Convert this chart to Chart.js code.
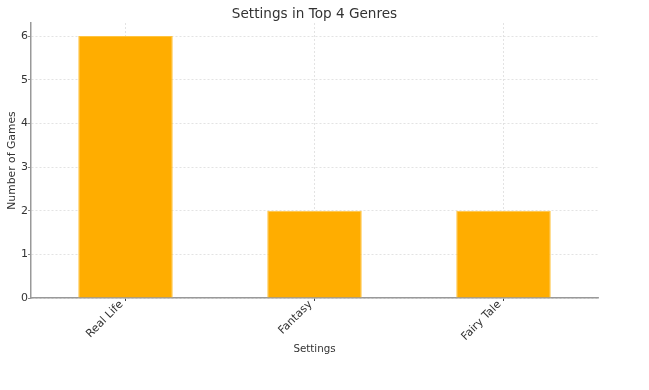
<!DOCTYPE html>
<html>
<head>
<meta charset="utf-8">
<script src="https://cdn.jsdelivr.net/npm/chart.js@4/dist/chart.umd.min.js"></script>
<style>
  html, body { margin: 0; padding: 0; background: #fff; }
  #wrap { width: 649px; height: 390px; position: relative; }
</style>
</head>
<body>
<div id="wrap"><canvas id="settings-chart"></canvas></div>
<script>
// Data
const categories = ['Real Life', 'Fantasy', 'Fairy Tale'];
const gameCounts = [6, 2, 2];
const yTicks = [0, 1, 2, 3, 4, 5, 6];
const chartTitle = 'Settings in Top 4 Genres';

const FONT = "'DejaVu Sans', sans-serif";

// Title centred over the plot area (matplotlib style)
const plotTitle = {
    id: 'plotTitle',
    afterDraw(chart) {
        const { ctx, chartArea } = chart;
        ctx.save();
        ctx.font = '13.6px ' + FONT;
        ctx.fillStyle = '#333';
        ctx.textAlign = 'center';
        ctx.textBaseline = 'middle';
        ctx.fillText(chartTitle, (chartArea.left + chartArea.right) / 2, 14.5);
        ctx.restore();
    }
};

new Chart(document.getElementById('settings-chart'), {
    type: 'bar',
    data: {
        labels: categories,
        datasets: [{
            data: gameCounts,
            backgroundColor: '#FFAD00',
            borderColor: '#FFC440',
            borderWidth: 1,
            categoryPercentage: 1,
            barPercentage: 0.5
        }]
    },
    options: {
        responsive: true,
        maintainAspectRatio: false,
        animation: false,
        layout: { padding: { top: 23, right: 51, bottom: 30, left: 0 } },
        plugins: {
            legend: { display: false },
            tooltip: { enabled: false }
        },
        scales: {
            x: {
                z: 1,
                offset: true,
                afterFit(scale) { scale.height = 62; },
                grid: {
                    offset: false,
                    color: '#dcdcdc',
                    lineWidth: 0.8,
                    tickLength: 3,
                    tickColor: '#444',
                    tickWidth: 1,
                    tickBorderDash: []
                },
                border: { color: '#999', width: 1.5, dash: [2, 2] },
                ticks: {
                    color: '#333',
                    font: { family: FONT, size: 11 },
                    maxRotation: 45,
                    minRotation: 45,
                    padding: -3,
                    labelOffset: -4
                },
                title: {
                    display: true,
                    text: 'Settings',
                    color: '#333',
                    font: { family: FONT, size: 10.3 },
                    padding: { top: 4, bottom: 4 }
                }
            },
            y: {
                z: 1,
                min: 0,
                max: 6.3,
                afterFit(scale) { scale.width = 31; },
                afterBuildTicks(scale) {
                    scale.ticks = yTicks.map(v => ({ value: v }));
                },
                grid: {
                    color: '#dcdcdc',
                    lineWidth: 0.8,
                    tickLength: 3,
                    tickColor: '#888',
                    tickWidth: 1,
                    tickBorderDash: []
                },
                border: { color: '#999', width: 1.5, dash: [2, 2] },
                ticks: {
                    color: '#333',
                    font: { family: FONT, size: 11 },
                    padding: 0
                },
                title: {
                    display: true,
                    text: 'Number of Games',
                    color: '#333',
                    font: { family: FONT, size: 10.8 },
                    padding: { top: 6, bottom: 2 }
                }
            }
        }
    },
    plugins: [plotTitle]
});
</script>
</body>
</html>
